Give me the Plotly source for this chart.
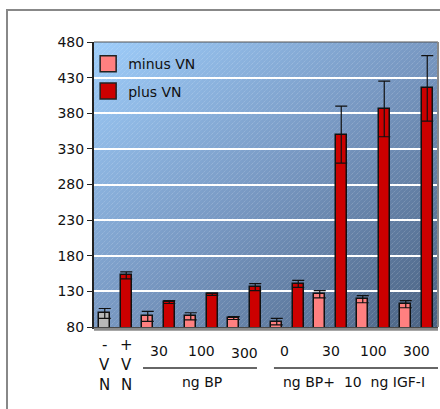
import base64
import plotly.graph_objects as go

# ---- data ----
slots = list(range(16))  # bar slots: even = minus VN, odd = plus VN
control_value = [99]
control_err = [7]
minus_vn = [95, 95, 92.5, 87.5, 126, 119, 112]
minus_err = [7, 5, 2, 4.5, 5, 5, 5]
plus_vn = [152.5, 115, 126, 136, 140.5, 350, 386, 415]
plus_err = [5, 2, 1.5, 5, 5, 40, 39, 46]
y_ticks = [80, 130, 180, 230, 280, 330, 380, 430, 480]
dose_labels = ["30", "100", "300", "0", "30", "100", "300"]
vn_labels = [["-", "V", "N"], ["+", "V", "N"]]
group_labels = ["ng BP", "ng BP+  10  ng IGF-I"]

FONT = "DejaVu Sans"
W, H = 440, 409
PLOT_L, PLOT_R, PLOT_T, PLOT_B = 94, 438, 42, 327
PH = PLOT_B - PLOT_T


def py(page_y):
    """page pixel y -> paper coordinate"""
    return (PLOT_B - page_y) / PH


svg = """<svg xmlns='http://www.w3.org/2000/svg' width='344' height='285' viewBox='0 0 344 285' preserveAspectRatio='none'>
<defs>
<linearGradient id='g' x1='0' y1='0' x2='1' y2='1'>
<stop offset='0' stop-color='#9ecdfa'/>
<stop offset='0.5' stop-color='#7898c2'/>
<stop offset='1' stop-color='#4a6282'/>
</linearGradient>
<pattern id='p' width='5' height='5' patternUnits='userSpaceOnUse'>
<path d='M-1,6 L6,-1' stroke='white' stroke-width='0.7' stroke-dasharray='1,1' opacity='0.35'/>
</pattern>
</defs>
<rect width='344' height='285' fill='url(#g)'/>
<rect width='344' height='285' fill='url(#p)'/>
</svg>"""
bg_uri = "data:image/svg+xml;base64," + base64.b64encode(svg.encode()).decode()

minus_x = slots[2::2]
plus_x = slots[1::2]

fig = go.Figure()
err_style = dict(type="data", visible=True, color="#111111", thickness=1.2, width=6)

fig.add_trace(go.Bar(
    x=[slots[0]], y=control_value, width=0.5, showlegend=False,
    marker=dict(color="#b8b8b8", line=dict(color="#111111", width=1.5)),
    error_y=dict(array=control_err, **err_style),
))
fig.add_trace(go.Bar(
    x=minus_x, y=minus_vn, width=0.5, showlegend=False,
    marker=dict(color="#ff8080", line=dict(color="#111111", width=1.5)),
    error_y=dict(array=minus_err, **err_style),
))
fig.add_trace(go.Bar(
    x=plus_x, y=plus_vn, width=0.5, showlegend=False,
    marker=dict(color="#cc0000", line=dict(color="#111111", width=1.5)),
    error_y=dict(array=plus_err, **err_style),
))
# legend proxies
fig.add_trace(go.Scatter(
    x=[None], y=[None], mode="markers", name="minus VN", legendgroup="a",
    marker=dict(symbol="square", size=16, color="#ff8080", line=dict(color="#222", width=1.5)),
))
fig.add_trace(go.Scatter(
    x=[None], y=[None], mode="markers", name="plus VN", legendgroup="b",
    marker=dict(symbol="square", size=16, color="#cc0000", line=dict(color="#222", width=1.5)),
))

annotations = []
for i, lines in enumerate(vn_labels):
    for j, t in enumerate(lines):
        annotations.append(dict(x=slots[i], y=py(345 + 20 * j), xref="x", yref="paper",
                                text=t, showarrow=False, font=dict(family=FONT, size=15, color="#111"),
                                xanchor="center", yanchor="middle"))
for k, t in enumerate(dose_labels):
    xc = 2.5 + 2 * k
    if k == 3:
        xc -= 0.15
    ypx = 353 if k == 2 else 351
    annotations.append(dict(x=xc, y=py(ypx), xref="x", yref="paper", text=t,
                            showarrow=False, font=dict(family=FONT, size=14, color="#111"),
                            xanchor="center", yanchor="middle"))
annotations.append(dict(x=4.5, y=py(382), xref="x", yref="paper", text=group_labels[0],
                        showarrow=False, font=dict(family=FONT, size=14, color="#111"),
                        xanchor="center", yanchor="middle"))
annotations.append(dict(x=11.6, y=py(382), xref="x", yref="paper", text=group_labels[1],
                        showarrow=False, font=dict(family=FONT, size=14, color="#111"),
                        xanchor="center", yanchor="middle"))

line_y = py(368)
PW = PLOT_R - PLOT_L
shapes = [
    dict(type="line", xref="x", yref="paper", x0=1.78, x1=7.08, y0=line_y, y1=line_y,
         line=dict(color="#333", width=1.5)),
    dict(type="line", xref="x", yref="paper", x0=7.87, x1=15.6, y0=line_y, y1=line_y,
         line=dict(color="#333", width=1.5)),
    # floor
    dict(type="line", xref="paper", yref="paper", x0=0, x1=1, y0=-0.008, y1=-0.008,
         line=dict(color="#8a8a8a", width=3)),
    # outer frame
    dict(type="rect", xref="paper", yref="paper", x0=(7 - PLOT_L) / PW, x1=1.2,
         y0=-0.5, y1=py(10), line=dict(color="#888", width=2)),
    dict(type="line", xref="paper", yref="paper", x0=0, x1=1, y0=1, y1=1,
         line=dict(color="#555", width=1)),
    dict(type="line", xref="paper", yref="paper", x0=1, x1=1, y0=0, y1=1,
         line=dict(color="#888", width=2)),
]

fig.update_layout(
    width=W, height=H,
    margin=dict(l=PLOT_L, r=W - PLOT_R, t=PLOT_T, b=H - PLOT_B),
    paper_bgcolor="white", plot_bgcolor="rgba(0,0,0,0)",
    barmode="overlay", bargap=0,
    font=dict(family=FONT, size=14, color="#111"),
    images=[dict(source=bg_uri, xref="paper", yref="paper", x=0, y=1, sizex=1, sizey=1,
                 sizing="stretch", xanchor="left", yanchor="top", layer="below")],
    legend=dict(x=-0.017, y=0.978, xanchor="left", yanchor="top", bgcolor="rgba(0,0,0,0)",
                font=dict(family=FONT, size=14, color="#111"), tracegroupgap=6,
                itemsizing="trace"),
    xaxis=dict(range=[-0.5, 15.5], showticklabels=False, showgrid=False, zeroline=False,
               showline=True, linecolor="#333", linewidth=1.5, ticks=""),
    yaxis=dict(range=[80, 480], tickvals=y_ticks, showgrid=True, gridcolor="white", gridwidth=1.5,
               zeroline=False, showline=True, linecolor="#222", linewidth=2, ticks="outside",
               ticklen=5, tickcolor="#222", tickfont=dict(family=FONT, size=14, color="#111")),
    annotations=annotations,
    shapes=shapes,
)

fig.write_html(
    "out.html",
    config={"displayModeBar": False},
    post_script="document.body.style.margin='0';document.body.style.overflow='hidden';",
)
